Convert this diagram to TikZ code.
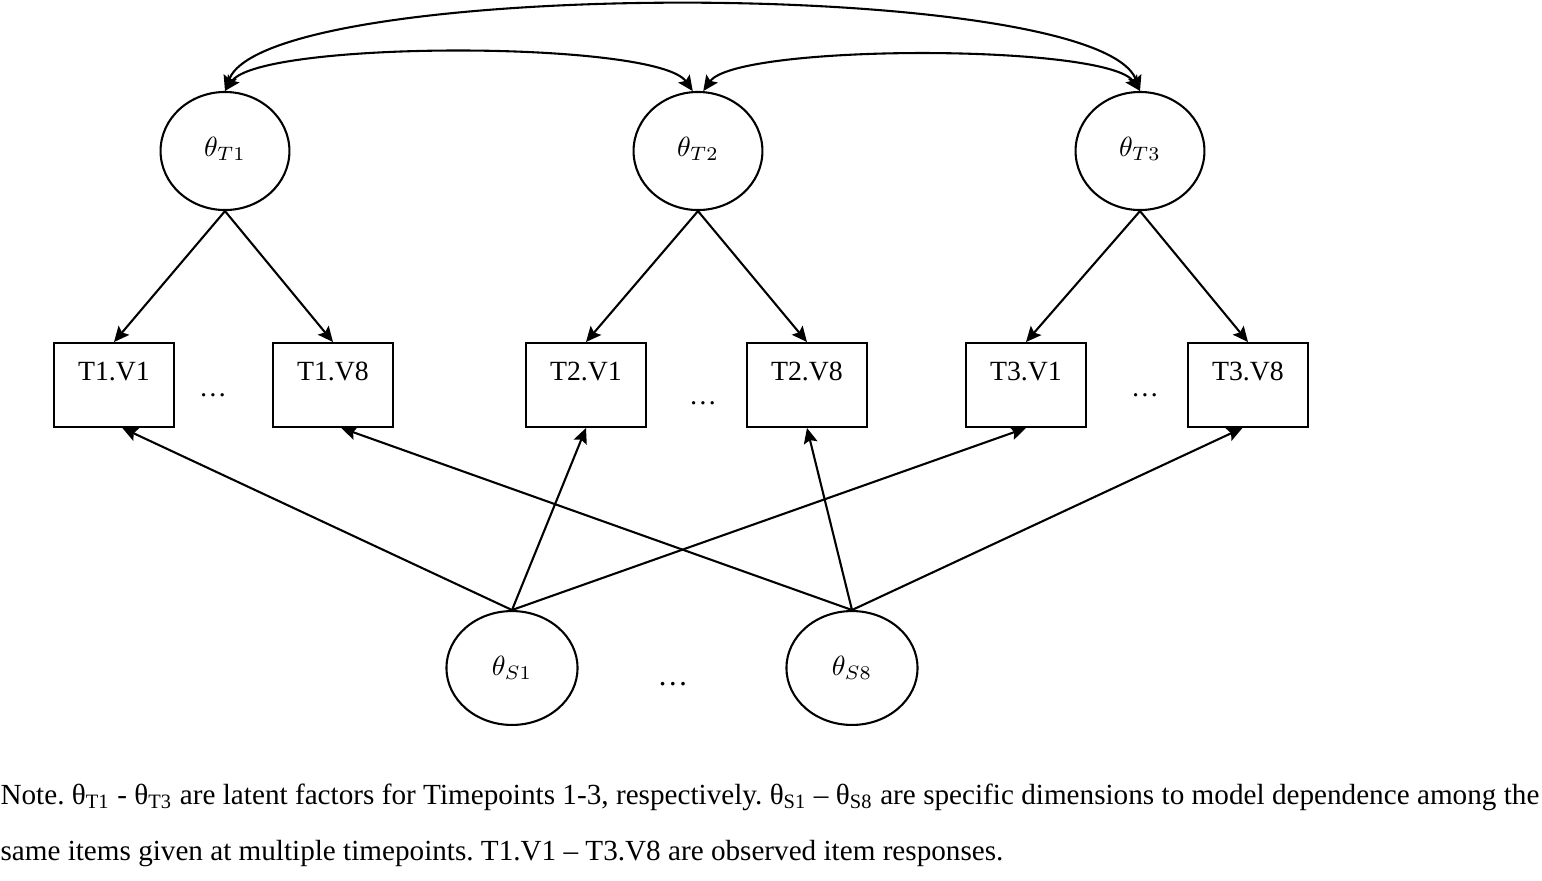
\documentclass[tikz,border=0pt]{standalone}
\usepackage{fontspec}
\setmainfont{Liberation Serif}
\usetikzlibrary{arrows.meta}
\usetikzlibrary{shapes,positioning}
\tikzset{>={Stealth[length=5.5pt,width=5pt,inset=1pt]}}
\tikzset{
	latent/.style={draw,ellipse,line width=0.75pt,inner sep=0pt,minimum width=46.4pt,minimum height=42.5pt,font=\fontsize{10}{12}\selectfont},
	item/.style={draw,rectangle,line width=0.75pt,inner sep=0pt,minimum width=43pt,minimum height=30.2pt,text height=7pt,text depth=9.9pt,font=\fontsize{10}{12}\selectfont},
	load/.style={->,line width=0.75pt},
	corr/.style={<->,line width=0.75pt}
}

\begin{document}
\begin{tikzpicture}[x=0.36pt,y=-0.36pt]
		\useasboundingbox (0,0) rectangle (1542,880);
		\node[latent] (T1) at (225,151) {\raisebox{3pt}{$\theta_{T1}$}};
		\node[latent] (T2) at (698,151) {\raisebox{3pt}{$\theta_{T2}$}};
		\node[latent] (T3) at (1140,151) {\raisebox{3pt}{$\theta_{T3}$}};
		\node[item] (v11) at (114,385) {T1.V1};
		\node[item] (v18) at (333,385) {T1.V8};
		\node[item] (v21) at (586,385) {T2.V1};
		\node[item] (v28) at (807,385) {T2.V8};
		\node[item] (v31) at (1026,385) {T3.V1};
		\node[item] (v38) at (1248,385) {T3.V8};
		\node[font=\fontsize{10}{12}\selectfont] (d1) at (213,395) {\dots};
		\node[font=\fontsize{10}{12}\selectfont] (d2) at (703,403) {\dots};
		\node[font=\fontsize{10}{12}\selectfont] (d3) at (1145,395) {\dots};
		\node[latent,minimum width=47.2pt,minimum height=41pt] (S1) at (512,668) {\raisebox{-1.8pt}{$\theta_{S1}$}};
		\node[latent,minimum width=47.2pt,minimum height=41pt] (S8) at (852,668) {\raisebox{1pt}{$\theta_{S8}$}};
		\node[font=\fontsize{11}{13}\selectfont] (d4) at (673,684) {\dots};
		\draw[corr] (T1.north) to[out=70,in=110,looseness=0.34] (T3.north);
		\draw[corr] (T1.north) to[out=55,in=125,looseness=0.34] (T2.95);
		\draw[corr] (T2.85) to[out=55,in=125,looseness=0.34] (T3.north);
		\draw[load] (T1.south) -- (v11.north);
		\draw[load] (T1.south) -- (v18.north);
		\draw[load] (T2.south) -- (v21.north);
		\draw[load] (T2.south) -- (v28.north);
		\draw[load] (T3.south) -- (v31.north);
		\draw[load] (T3.south) -- (v38.north);
		\draw[load] (S1.north) -- ([xshift=3pt]v11.south);
		\draw[load] (S1.north) -- (v21.south);
		\draw[load] (S1.north) -- (v31.south);
		\draw[load] (S8.north) -- ([xshift=3pt]v18.south);
		\draw[load] (S8.north) -- (v28.south);
		\draw[load] (S8.north) -- ([xshift=-2pt]v38.south);
		%\node (note) at (0,804) {};
		\node[anchor=base west,text width=554pt,align=justify,inner sep=0pt,font=\fontsize{10.5}{20.5}\selectfont\frenchspacing] (note) at (0,804)
			{Note. θ\textsubscript{T1} - θ\textsubscript{T3} are latent factors for Timepoints 1-3, respectively. θ\textsubscript{S1} – θ\textsubscript{S8} are specific dimensions to model dependence among the\linebreak same items given at multiple timepoints. T1.V1 – T3.V8 are observed item responses.};
\end{tikzpicture}
\end{document}
